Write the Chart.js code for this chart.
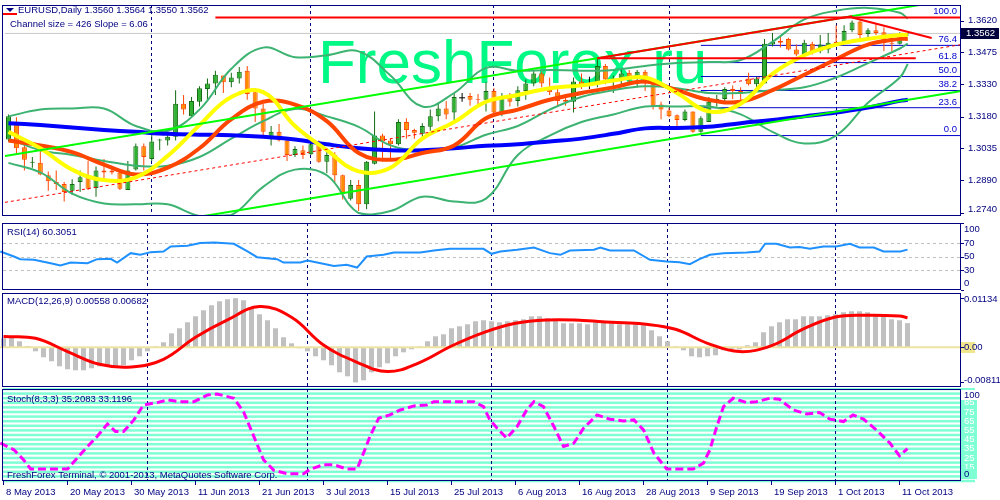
<!DOCTYPE html>
<html>
<head>
<meta charset="utf-8">
<title>EURUSD Daily</title>
<script src="https://cdn.jsdelivr.net/npm/chart.js@4.4.1/dist/chart.umd.min.js"></script>
<style>
  body { margin: 0; background: #fff; }
  #wrap { position: relative; width: 1000px; height: 500px; overflow: hidden; background: #fff; }
  #wrap canvas { position: absolute; left: 0; }
</style>
</head>
<body>
<div id="wrap">
  <canvas id="c-main" width="1000" height="221" style="top:0px"></canvas>
  <canvas id="c-rsi" width="1000" height="69" style="top:222px"></canvas>
  <canvas id="c-macd" width="1000" height="96" style="top:292px"></canvas>
  <canvas id="c-stoch" width="1000" height="112" style="top:388px"></canvas>
</div>
<script>
// ---- data ----
const symbol = 'EURUSD', timeframe = 'Daily';
const dateIdx = [0, 8, 16, 24, 32, 40, 48, 56, 64, 72, 80, 88, 96, 104, 112];
const dateLabels = ['8 May 2013', '20 May 2013', '30 May 2013', '11 Jun 2013', '21 Jun 2013', '3 Jul 2013',
  '15 Jul 2013', '25 Jul 2013', '6 Aug 2013', '16 Aug 2013', '28 Aug 2013', '9 Sep 2013', '19 Sep 2013',
  '1 Oct 2013', '11 Oct 2013'];
const monthStarts = [18, 38, 61, 83, 104];

const opens = [
  1.3076,1.3147,1.3040,1.2969,1.2969,1.2912,1.2881,1.2872,1.2841,1.2881,
  1.2903,1.2854,1.2934,1.2934,1.2925,1.2845,1.2938,1.3045,1.2987,1.3071,
  1.3071,1.3089,1.3240,1.3182,1.3249,1.3307,1.3333,1.3369,1.3338,1.3355,
  1.3391,1.3293,1.3218,1.3085,1.3111,1.3071,1.3005,1.3027,1.3009,1.3058,
  1.2974,1.3005,1.2912,1.2805,1.2868,1.2779,1.2965,1.3094,1.3071,1.3054,
  1.3156,1.3120,1.3102,1.3134,1.3182,1.3218,1.3200,1.3267,1.3275,1.3262,
  1.3258,1.3298,1.3200,1.3280,1.3253,1.3298,1.3333,1.3378,1.3315,1.3293,
  1.3258,1.3249,1.3342,1.3324,1.3333,1.3413,1.3351,1.3351,1.3382,1.3364,
  1.3386,1.3333,1.3236,1.3209,1.3187,1.3165,1.3204,1.3111,1.3156,1.3244,
  1.3262,1.3307,1.3298,1.3355,1.3329,1.3333,1.3511,1.3528,1.3537,1.3488,
  1.3466,1.3515,1.3480,1.3488,1.3524,1.3524,1.3577,1.3617,1.3559,1.3577,
  1.3568,1.3519,1.3515,1.3560];
const highs = [
  1.3191,1.3178,1.3049,1.2996,1.3023,1.2929,1.2934,1.2881,1.2894,1.2934,
  1.2978,1.2952,1.2987,1.2956,1.2938,1.2978,1.3058,1.3058,1.3111,1.3080,
  1.3111,1.3302,1.3280,1.3271,1.3320,1.3355,1.3391,1.3369,1.3382,1.3408,
  1.3413,1.3311,1.3240,1.3138,1.3147,1.3085,1.3045,1.3049,1.3080,1.3071,
  1.3036,1.3018,1.2916,1.2890,1.2890,1.2978,1.3204,1.3102,1.3080,1.3169,
  1.3173,1.3125,1.3151,1.3213,1.3244,1.3253,1.3289,1.3289,1.3289,1.3284,
  1.3338,1.3311,1.3289,1.3289,1.3320,1.3351,1.3395,1.3386,1.3360,1.3311,
  1.3275,1.3360,1.3378,1.3364,1.3448,1.3422,1.3369,1.3404,1.3395,1.3395,
  1.3395,1.3338,1.3249,1.3222,1.3191,1.3213,1.3204,1.3182,1.3271,1.3280,
  1.3315,1.3324,1.3315,1.3382,1.3364,1.3537,1.3564,1.3546,1.3542,1.3511,
  1.3533,1.3524,1.3555,1.3564,1.3599,1.3599,1.3621,1.3621,1.3586,1.3604,
  1.3590,1.3559,1.3568,1.3564];
const lows = [
  1.3067,1.3005,1.2934,1.2947,1.2912,1.2841,1.2845,1.2792,1.2823,1.2836,
  1.2845,1.2814,1.2881,1.2916,1.2845,1.2845,1.2934,1.2934,1.2978,1.3027,
  1.3049,1.3071,1.3191,1.3182,1.3227,1.3258,1.3280,1.3289,1.3315,1.3333,
  1.3258,1.3156,1.3089,1.3049,1.3067,1.2978,1.2996,1.2987,1.3005,1.2969,
  1.2921,1.2881,1.2801,1.2796,1.2748,1.2757,1.2961,1.2974,1.2978,1.3049,
  1.3080,1.3080,1.3089,1.3116,1.3160,1.3169,1.3156,1.3249,1.3231,1.3231,
  1.3204,1.3182,1.3182,1.3227,1.3227,1.3258,1.3320,1.3315,1.3280,1.3227,
  1.3231,1.3200,1.3307,1.3307,1.3315,1.3329,1.3289,1.3324,1.3333,1.3315,
  1.3298,1.3213,1.3169,1.3178,1.3134,1.3160,1.3107,1.3107,1.3156,1.3227,
  1.3240,1.3262,1.3258,1.3324,1.3315,1.3333,1.3502,1.3497,1.3484,1.3457,
  1.3457,1.3466,1.3471,1.3471,1.3511,1.3515,1.3568,1.3533,1.3537,1.3555,
  1.3480,1.3480,1.3511,1.3550];
const closes = [
  1.3182,1.3036,1.2983,1.2974,1.2916,1.2885,1.2872,1.2836,1.2872,1.2903,
  1.2850,1.2934,1.2925,1.2925,1.2850,1.2934,1.3045,1.2996,1.3067,1.3076,
  1.3089,1.3240,1.3213,1.3253,1.3311,1.3333,1.3373,1.3338,1.3360,1.3386,
  1.3284,1.3218,1.3111,1.3111,1.3071,1.3005,1.3032,1.3005,1.3054,1.2974,
  1.3005,1.2912,1.2828,1.2868,1.2779,1.2974,1.3094,1.3067,1.3054,1.3156,
  1.3120,1.3107,1.3138,1.3182,1.3218,1.3191,1.3271,1.3267,1.3258,1.3258,
  1.3298,1.3200,1.3271,1.3249,1.3302,1.3333,1.3378,1.3333,1.3293,1.3253,
  1.3249,1.3342,1.3320,1.3324,1.3413,1.3351,1.3355,1.3378,1.3360,1.3386,
  1.3333,1.3231,1.3213,1.3182,1.3165,1.3204,1.3111,1.3173,1.3249,1.3262,
  1.3307,1.3298,1.3284,1.3329,1.3355,1.3515,1.3524,1.3519,1.3488,1.3466,
  1.3519,1.3480,1.3511,1.3519,1.3515,1.3573,1.3612,1.3555,1.3577,1.3564,
  1.3519,1.3515,1.3537,1.3562];

// moving averages and Bollinger bands, read every 4 bars
const maIdx = [0,4,8,12,16,20,24,28,32,36,40,44,48,52,56,60,64,68,72,76,80,84,88,92,96,100,104,108,112,113];
const maBlue = [1.3151,1.3142,1.3131,1.3120,1.3111,1.3102,1.3098,1.3096,1.3089,1.3076,1.3054,1.3036,1.3027,1.3027,1.3036,
  1.3047,1.3054,1.3067,1.3080,1.3102,1.3127,1.3129,1.3134,1.3151,1.3165,1.3182,1.3200,1.3222,1.3253,1.3258];
const maYellow = [1.3111,1.3036,1.2938,1.2890,1.2903,1.3001,1.3142,1.3271,1.3293,1.3138,1.3027,1.2930,1.2947,1.3080,1.3156,
  1.3249,1.3280,1.3311,1.3324,1.3346,1.3360,1.3289,1.3205,1.3240,1.3377,1.3462,1.3511,1.3537,1.3555,1.3555];
const maOrange = [1.3071,1.3049,1.3018,1.2961,1.2916,1.2947,1.3036,1.3169,1.3249,1.3236,1.3160,1.3014,1.2983,1.3014,1.3049,
  1.3173,1.3213,1.3258,1.3289,1.3315,1.3342,1.3302,1.3258,1.3249,1.3302,1.3373,1.3444,1.3511,1.3537,1.3537];
const bbUpper = [1.3182,1.3213,1.3218,1.3218,1.3138,1.3116,1.3213,1.3400,1.3497,1.3453,1.3462,1.3480,1.3369,1.3227,1.3289,
  1.3404,1.3391,1.3395,1.3391,1.3395,1.3413,1.3426,1.3431,1.3440,1.3524,1.3626,1.3666,1.3679,1.3657,1.3630];
const bbMiddle = [1.3080,1.3027,1.3005,1.2978,1.2956,1.2956,1.2996,1.3080,1.3160,1.3216,1.3182,1.3134,1.3049,1.3027,1.3040,
  1.3098,1.3138,1.3213,1.3271,1.3302,1.3320,1.3311,1.3289,1.3289,1.3302,1.3315,1.3360,1.3426,1.3493,1.3515];
const bbLower = [1.2969,1.2925,1.2828,1.2783,1.2779,1.2779,1.2726,1.2730,1.2859,1.2938,1.2912,1.2739,1.2748,1.2814,1.2792,
  1.2805,1.3005,1.3094,1.3156,1.3191,1.3227,1.3227,1.3227,1.3191,1.3111,1.3058,1.3094,1.3244,1.3360,1.3422];

// regression channel, trend lines, fibonacci
const channelSize = 426, channelSlope = '6.06';
const channelIdx = [-0.44, 119.56];
const channelUpper = [1.3000, 1.3723];
const channelMiddle = [1.2788, 1.3510];
const channelLower = [1.2575, 1.3297];
const redTopIdx = [26, 119.56], redTop = [1.3635, 1.3635];
const redFlatIdx = [74, 114], redFlat = [1.3448, 1.3448];
const redRiseIdx = [74, 106], redRise = [1.3448, 1.3641];
const redFallIdx = [106, 116], redFall = [1.3635, 1.3541];
const fibStart = 87, fibLow = 1.3094, fibHigh = 1.3635;
const fibLevels = [0, 23.6, 38.2, 50, 61.8, 76.4, 100];
const priceTicks = [1.3620, 1.3475, 1.3330, 1.3180, 1.3035, 1.2890, 1.2740];

// RSI(14)
const rsiIdx = [-0.4,1.3,2.1,3.8,5.9,7.1,8.4,10.5,11.7,13.4,14.2,15.9,17.1,18.4,20,20.9,23,24.6,26.3,28.8,30.5,31.7,34.2,35,
  37.1,38,39.2,41.3,42.9,44.2,45.4,47.5,48.8,52.1,53.8,55.8,60,61,62.1,64.2,66.3,68.3,69.6,70.8,73.8,74.6,75.8,78.8,80.8,
  82.9,84.5,85.8,87,88.3,90,92.9,94.5,95.2,96.6,98.3,99.5,100.8,102.5,104.1,105.8,107,108.8,110,112.1,113];
const rsiVals = [57.5,50,46,45,40,36.5,41,40,46,46.5,41,55,52.5,56.5,57.5,65,66,70,71,69,57.5,49,46,41,
  41,44,41,36,37.5,33.5,50,52.5,56,56,59,61.5,61.5,54,57.5,60,63.5,55,52.5,59,60,63.5,59,59,45,
  42.5,41.5,38.5,46,52.5,55,56,57.5,69,69,63.5,64,61.5,65,65,69,63.5,63.5,57.5,57.5,60.3051];
const rsiTicks = [100, 70, 50, 30, 0];
const rsiLevels = [70, 50, 30];

// MACD(12,26,9)
const macdHist = [
  0.00208,0.00231,0.00139,0.00030,-0.00092,-0.00231,-0.00323,-0.00439,-0.00508,-0.00531,
  -0.00531,-0.00485,-0.00439,-0.00439,-0.00439,-0.00416,-0.00300,-0.00208,-0.00092,0.00023,
  0.00116,0.00323,0.00439,0.00578,0.00716,0.00855,0.00970,0.01063,0.01109,0.01134,
  0.01086,0.00924,0.00762,0.00624,0.00439,0.00231,0.00092,-0.00023,-0.00092,-0.00208,
  -0.00300,-0.00416,-0.00578,-0.00670,-0.00811,-0.00762,-0.00578,-0.00462,-0.00370,-0.00208,
  -0.00116,-0.00046,0.00023,0.00139,0.00254,0.00300,0.00439,0.00485,0.00531,0.00601,
  0.00624,0.00601,0.00578,0.00601,0.00624,0.00647,0.00716,0.00716,0.00670,0.00624,
  0.00554,0.00554,0.00554,0.00531,0.00578,0.00601,0.00554,0.00531,0.00531,0.00531,
  0.00508,0.00393,0.00254,0.00139,0.00023,-0.00069,-0.00208,-0.00231,-0.00208,-0.00185,
  -0.00069,-0.00046,-0.00046,0.00046,0.00116,0.00347,0.00485,0.00578,0.00647,0.00647,
  0.00716,0.00716,0.00716,0.00739,0.00762,0.00809,0.00832,0.00832,0.00809,0.00739,
  0.00716,0.00647,0.00624,0.00558];
const macdSignal = [0.00247,0.00208,-0.00099,-0.00393,-0.00455,-0.00277,0.00231,0.00631,0.00940,0.00693,
  0.00053,-0.00330,-0.00561,-0.00353,0.00030,0.00340,0.00554,0.00631,0.00624,0.00578,
  0.00538,0.00416,0.00092,-0.00099,0.00039,0.00423,0.00700,0.00740,0.00720,0.00682];
const macdTicks = [0.01134, 0, -0.00811];

// Stochastic(8,3,3)
const stochIdx = [-0.4,1.3,2.5,3.4,8,9.2,10.5,11.7,13,14,15,16.3,17.5,19.2,20.5,22.1,23.8,25.5,26.7,28.8,30,31.3,32.5,33.8,
  35.5,37.5,38.4,40,41.3,42.9,44.2,45,45.8,46.9,48.3,49.6,51.3,52.9,53.8,58.8,60,60.8,61.7,62.9,64.2,65.4,66.3,67.5,68.8,
  70,71.3,72.5,74.2,75.8,77.5,78.8,80,81.3,82.9,86.2,87.5,88.3,89.1,90,91.2,92.9,94.1,95.8,97,98.7,100.4,102,103.3,105,
  106.2,107.5,109.1,110.8,112,113];
const stochMain = [41.2,33.9,23.1,13,13,24.9,37.5,48.3,62.1,53.7,53.7,66.4,82.7,85.2,88.1,86.2,86.2,93.5,94.6,89.9,75.4,48.3,23.1,11.5,
  7.9,7.9,13,17.7,17.7,13,13,30.3,48.3,68.3,71.8,77.2,81.6,82.7,86.2,86.2,80.8,66.4,57.4,46.6,59.2,77.2,86.2,80.8,59.2,
  37.5,41.2,57.4,71.8,67.2,65.3,66.4,55.6,30.3,13,13,19.5,33.9,57.4,80.8,89.9,85.2,86.2,89.9,88.8,77.2,72.9,74.4,67.2,64.6,
  71.8,67.2,55.6,41.2,27.4,35.2083];
const stochSignalLast = 33.1196;
const stochLevels = [0,5,10,15,20,25,30,35,40,45,50,55,60,65,70,75,80,85,90,95,100];
const stochTicks = [95, 85, 75, 65, 55, 45, 35, 25, 15, 100, 0];

// ---- drawing ----
const NAVY = '#000080';
const FONT = '9.5px "Liberation Sans", Arial, sans-serif';
const XMIN = -0.4375, XMAX = 119.5625;
const BULL_FILL = '#30b030', BULL_LINE = '#126b12', BEAR_FILL = '#ff8c00', BEAR_LINE = '#ff4500';
const last = closes.length - 1;

function xy(xs, ys) { return xs.map((x, k) => ({x: x, y: ys[k]})); }
function lineSet(xs, ys, color, width, order, extra) {
  return Object.assign({type: 'line', data: xy(xs, ys), borderColor: color, borderWidth: width,
    pointRadius: 0, fill: false, tension: 0, order: order}, extra || {});
}
function paneOptions(ymin, ymax, padTop, padBottom) {
  return {
    responsive: false, animation: false, events: [],
    layout: {padding: {left: 0, right: 40, top: padTop, bottom: padBottom}},
    plugins: {legend: {display: false}, tooltip: {enabled: false}},
    scales: {
      x: {type: 'linear', min: XMIN, max: XMAX, display: false, offset: false},
      y: {type: 'linear', min: ymin, max: ymax, display: false}
    }
  };
}
function drawFrame(chart) {
  const {ctx, chartArea: a} = chart;
  ctx.save();
  ctx.strokeStyle = NAVY; ctx.lineWidth = 1;
  ctx.strokeRect(2.5, a.top + 0.5, 958, a.bottom - a.top - 1);
  ctx.restore();
}
function drawSeparators(chart) {
  const {ctx, chartArea: a, scales: {x}} = chart;
  ctx.save();
  ctx.strokeStyle = NAVY; ctx.lineWidth = 1; ctx.setLineDash([3, 3]);
  monthStarts.forEach(i => {
    const px = Math.floor(x.getPixelForValue(i)) + 0.5;
    ctx.beginPath(); ctx.moveTo(px, a.top); ctx.lineTo(px, a.bottom); ctx.stroke();
  });
  ctx.restore();
}
function drawAxis(chart, ticks, fmt, textX) {
  const {ctx, chartArea: a, scales: {y}} = chart;
  ctx.save();
  ctx.font = FONT; ctx.textAlign = 'left'; ctx.textBaseline = 'middle';
  ticks.forEach(v => {
    const py = y.getPixelForValue(v);
    const ty = Math.min(Math.max(py, a.top + 6), a.bottom - 7);
    ctx.fillStyle = NAVY;
    ctx.fillRect(961, Math.round(py), 3, 1);
    ctx.fillText(fmt(v), textX, ty);
  });
  ctx.restore();
}
function drawTitle(chart, text, y) {
  const {ctx} = chart;
  ctx.save();
  ctx.font = FONT; ctx.fillStyle = NAVY; ctx.textBaseline = 'middle';
  ctx.fillText(text, 7, y);
  ctx.restore();
}

// main price pane
const barIdx = closes.map((_, i) => i);
const kind = i => closes[i] > opens[i] ? 'bull' : (closes[i] < opens[i] ? 'bear' : 'doji');
const bodyIdx = barIdx.filter(i => kind(i) !== 'doji');
const dojiIdx = barIdx.filter(i => kind(i) === 'doji');
const fibPrice = l => fibLow + (fibHigh - fibLow) * l / 100;

const mainSets = [
  lineSet([XMIN, XMAX], [closes[last], closes[last]], '#c8c8c8', 1, 30),
  ...fibLevels.map(l => lineSet([fibStart, XMAX], [fibPrice(l), fibPrice(l)], '#0000cd', 1, 29)),
  {type: 'bar', data: barIdx.map(i => ({x: i, y: [lows[i], highs[i]]})),
    backgroundColor: barIdx.map(i => ({bull: BULL_LINE, bear: BEAR_LINE, doji: '#000000'})[kind(i)]),
    borderWidth: 0, barThickness: 1, maxBarThickness: 1, grouped: false, inflateAmount: 0, order: 28},
  {type: 'bar', data: bodyIdx.map(i => ({x: i, y: [Math.min(opens[i], closes[i]), Math.max(opens[i], closes[i])]})),
    backgroundColor: bodyIdx.map(i => kind(i) === 'bull' ? BULL_FILL : BEAR_FILL),
    borderColor: bodyIdx.map(i => kind(i) === 'bull' ? BULL_LINE : BEAR_LINE),
    borderWidth: 1, borderSkipped: false, barThickness: 5, maxBarThickness: 5, grouped: false, inflateAmount: 0, order: 27},
  {type: 'scatter', data: dojiIdx.map(i => ({x: i, y: opens[i]})), pointStyle: 'line', pointRadius: 3,
    borderColor: '#000000', borderWidth: 1, order: 26},
  lineSet(maIdx, bbUpper, '#3cb371', 2, 20, {tension: 0.4}),
  lineSet(maIdx, bbMiddle, '#3cb371', 2, 20, {tension: 0.4}),
  lineSet(maIdx, bbLower, '#3cb371', 2, 20, {tension: 0.4}),
  lineSet(maIdx, maBlue, '#0000ff', 4, 19, {tension: 0.4}),
  lineSet(maIdx, maOrange, '#ff4500', 4, 18, {tension: 0.4}),
  lineSet(maIdx, maYellow, '#ffff00', 4, 17, {tension: 0.4}),
  lineSet(channelIdx, channelUpper, '#00ff00', 2, 15),
  lineSet(channelIdx, channelLower, '#00ff00', 2, 15),
  lineSet(channelIdx, channelMiddle, '#ff0000', 1, 14, {borderDash: [3, 3]}),
  lineSet(redTopIdx, redTop, '#ff0000', 2, 13),
  lineSet(redFlatIdx, redFlat, '#ff0000', 2, 13),
  lineSet(redRiseIdx, redRise, '#ff0000', 2, 13),
  lineSet(redFallIdx, redFall, '#ff0000', 2, 13)
];

const mainDecor = {
  id: 'mainDecor',
  beforeDatasetsDraw(chart) {
    const {ctx} = chart;
    drawSeparators(chart);
    ctx.save();
    ctx.font = '62px "Liberation Sans", Arial, sans-serif';
    ctx.fillStyle = '#00f884';
    ctx.textBaseline = 'alphabetic';
    ctx.fillText('FreshForex.ru', 318, 83);
    ctx.restore();
  },
  afterDatasetsDraw(chart) {
    const {ctx, scales: {y}} = chart;
    ctx.save();
    ctx.font = FONT; ctx.fillStyle = '#0000cd'; ctx.textAlign = 'right'; ctx.textBaseline = 'bottom';
    fibLevels.forEach(l => ctx.fillText(l.toFixed(1), 957, y.getPixelForValue(fibPrice(l)) - 1));
    ctx.restore();
  },
  afterDraw(chart) {
    const {ctx, scales: {y}} = chart;
    drawFrame(chart);
    drawAxis(chart, priceTicks, v => v.toFixed(4), 968);
    // current price box
    const py = Math.round(y.getPixelForValue(closes[last]));
    ctx.save();
    ctx.fillStyle = '#00003c';
    ctx.fillRect(961, py - 5, 38, 11);
    ctx.font = FONT; ctx.fillStyle = '#ffffff'; ctx.textBaseline = 'middle';
    ctx.fillText(closes[last].toFixed(4), 966, py + 0.5);
    // header
    ctx.fillStyle = NAVY;
    ctx.beginPath(); ctx.moveTo(6, 8); ctx.lineTo(14, 8); ctx.lineTo(10, 12); ctx.closePath(); ctx.fill();
    ctx.fillStyle = '#ff0000';
    ctx.fillRect(3, 13, 14, 2);
    ctx.fillStyle = NAVY;
    ctx.fillText(symbol + ',' + timeframe + ' ' + [opens[last], highs[last], lows[last], closes[last]].map(v => v.toFixed(4)).join(' '), 18, 10);
    ctx.fillText('Channel size = ' + channelSize + ' Slope = ' + channelSlope, 10, 24);
    ctx.restore();
  }
};

new Chart(document.getElementById('c-main'), {
  type: 'line',
  data: {datasets: mainSets},
  options: paneOptions(1.27255, 1.36923, 2, 1),
  plugins: [mainDecor]
});

// RSI pane
new Chart(document.getElementById('c-rsi'), {
  type: 'line',
  data: {datasets: [lineSet(rsiIdx, rsiVals, '#1e90ff', 2, 1)]},
  options: paneOptions(0, 100, 1, 1),
  plugins: [{
    id: 'rsiDecor',
    beforeDatasetsDraw(chart) {
      const {ctx, scales: {y}} = chart;
      drawSeparators(chart);
      ctx.save();
      ctx.strokeStyle = '#c0c0c0'; ctx.lineWidth = 1; ctx.setLineDash([3, 3]);
      rsiLevels.forEach(v => {
        const py = Math.round(y.getPixelForValue(v)) + 0.5;
        ctx.beginPath(); ctx.moveTo(3, py); ctx.lineTo(960, py); ctx.stroke();
      });
      ctx.restore();
    },
    afterDraw(chart) {
      drawFrame(chart);
      drawAxis(chart, rsiTicks, v => String(v), 964);
      drawTitle(chart, 'RSI(14) ' + rsiVals[rsiVals.length - 1].toFixed(4), 10);
    }
  }]
});

// MACD pane
new Chart(document.getElementById('c-macd'), {
  type: 'line',
  data: {datasets: [
    {type: 'bar', data: barIdx.map(i => ({x: i, y: macdHist[i]})), backgroundColor: '#c0c0c0',
      borderWidth: 0, barThickness: 5, maxBarThickness: 5, grouped: false, inflateAmount: 0, order: 3},
    lineSet([XMIN, XMAX], [0, 0], '#eee3a0', 2, 2),
    lineSet(maIdx, macdSignal, '#ff0000', 3, 1, {tension: 0.4})
  ]},
  options: paneOptions(-0.00917, 0.01254, 1, 1),
  plugins: [{
    id: 'macdDecor',
    beforeDatasetsDraw(chart) { drawSeparators(chart); },
    afterDraw(chart) {
      const {ctx, scales: {y}} = chart;
      drawFrame(chart);
      const py = Math.round(y.getPixelForValue(0));
      ctx.save(); ctx.fillStyle = '#f0e68c'; ctx.fillRect(961, py - 5, 14, 11); ctx.restore();
      drawAxis(chart, macdTicks, v => v === 0 ? '0.00' : v.toFixed(5), 964);
      drawTitle(chart, 'MACD(12,26,9) ' + macdHist[last].toFixed(5) + ' ' + macdSignal[macdSignal.length - 1].toFixed(5), 9);
    }
  }]
});

// Stochastic pane
new Chart(document.getElementById('c-stoch'), {
  type: 'line',
  data: {datasets: [lineSet(stochIdx, stochMain, '#ff00ff', 3, 1, {borderDash: [8, 4]})]},
  options: paneOptions(0, 100, 1, 19),
  plugins: [{
    id: 'stochDecor',
    beforeDatasetsDraw(chart) {
      const {ctx, scales: {y}} = chart;
      ctx.save();
      ctx.fillStyle = '#7fffd4';
      stochLevels.forEach(v => ctx.fillRect(3, y.getPixelForValue(v) - 1.25, 972, 2.5));
      ctx.restore();
      drawSeparators(chart);
    },
    afterDraw(chart) {
      const {ctx, chartArea: a, scales: {x, y}} = chart;
      drawFrame(chart);
      ctx.save();
      ctx.font = FONT; ctx.textBaseline = 'middle';
      stochTicks.forEach(v => {
        const py = y.getPixelForValue(v);
        const ty = Math.min(Math.max(py, a.top + 6), a.bottom - 7);
        const edge = v === 100 || v === 0;
        ctx.fillStyle = edge && v === 100 ? '#ffffff' : '#7fffd4';
        ctx.fillRect(961, ty - 5, 16, 10);
        ctx.fillStyle = edge ? NAVY : '#ffffff';
        ctx.fillText(String(v), 964, ty);
      });
      ctx.fillStyle = NAVY;
      ctx.fillText('FreshForex Terminal, \u00a9 2001-2013, MetaQuotes Software Corp.', 7, a.bottom - 6);
      dateIdx.forEach((i, k) => {
        const px = Math.floor(x.getPixelForValue(i));
        ctx.fillRect(px, a.bottom, 1, 4);
        ctx.fillText(dateLabels[k], px + 3, a.bottom + 11);
      });
      ctx.restore();
      drawTitle(chart, 'Stoch(8,3,3) ' + stochMain[stochMain.length - 1].toFixed(4) + ' ' + stochSignalLast.toFixed(4), 11);
    }
  }]
});
</script>
</body>
</html>
